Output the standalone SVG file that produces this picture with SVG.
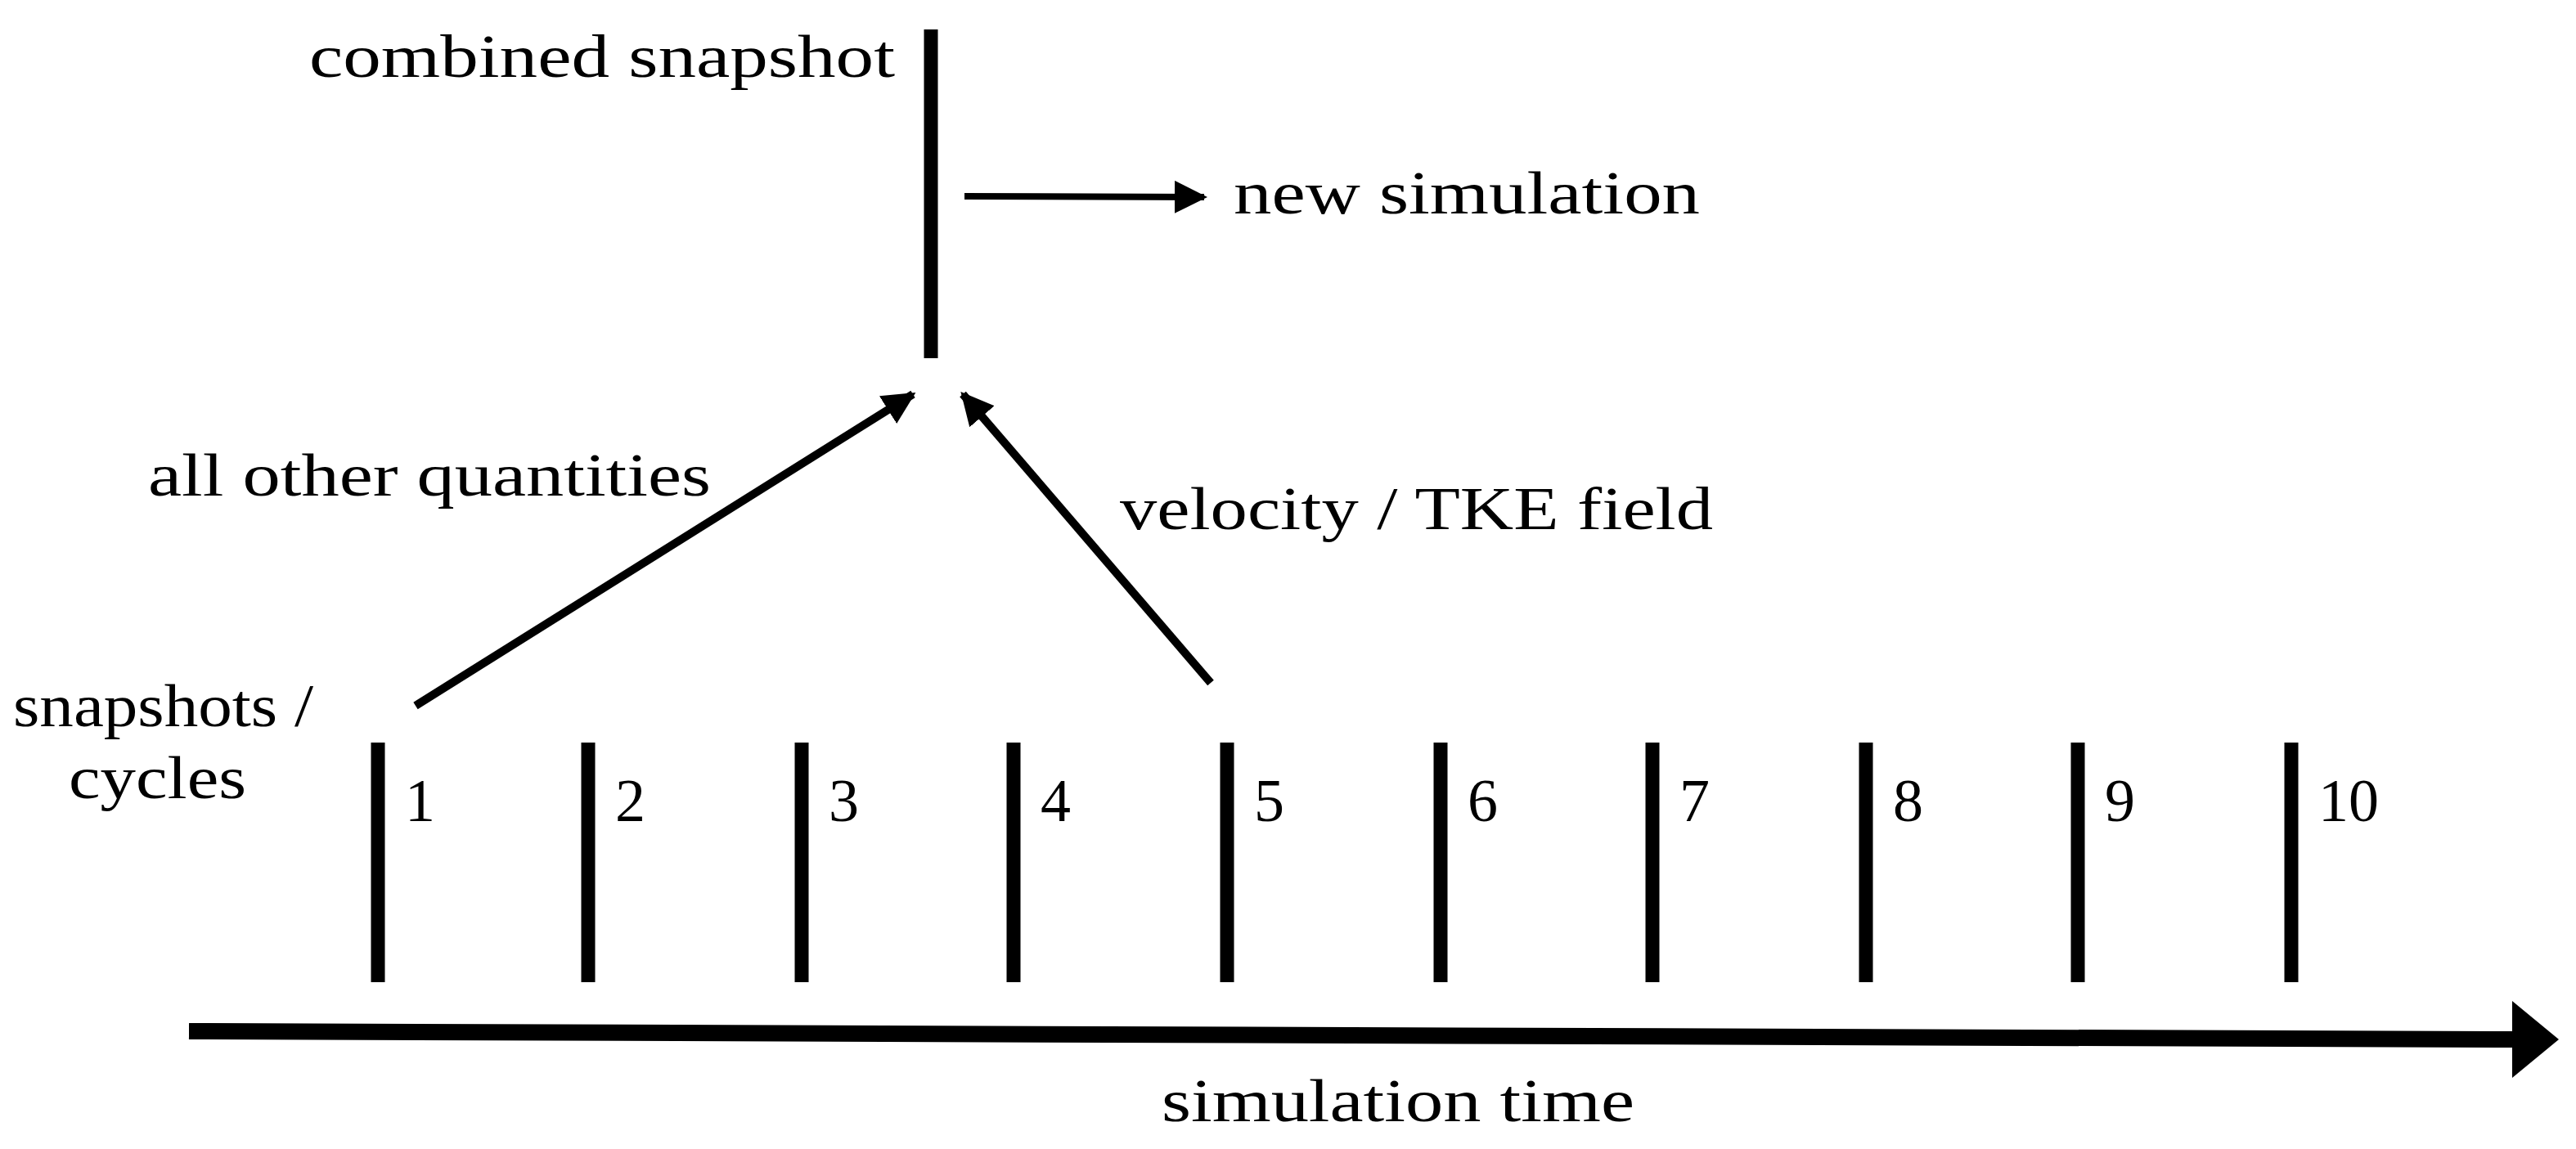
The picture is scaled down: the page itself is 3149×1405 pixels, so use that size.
<svg xmlns="http://www.w3.org/2000/svg" width="3149" height="1405" viewBox="0 0 3149 1405">
<style>
text{font-family:"Liberation Serif","DejaVu Serif",serif;font-size:74px;fill:#000}
.tick{stroke:#000;stroke-width:17}
.arr{stroke:#000;fill:none}
</style>
<defs>
<marker id="ah" viewBox="0 0 10 10" refX="9" refY="5" markerWidth="4" markerHeight="4" orient="auto" markerUnits="strokeWidth"><path d="M0,0 L10,5 L0,10 z" fill="#000"/></marker>
<marker id="ah2" viewBox="0 0 10 10" refX="9" refY="5" markerWidth="5" markerHeight="5" orient="auto" markerUnits="strokeWidth"><path d="M0,0 L10,5 L0,10 z" fill="#000"/></marker>
</defs>
<rect width="3149" height="1405" fill="#fff"/>
<g id="combined">
<line class="tick" x1="1138" y1="36" x2="1138" y2="438"/>
<text x="378" y="94" textLength="716" lengthAdjust="spacingAndGlyphs">combined snapshot</text>
</g>
<g id="newsim"><text x="1508" y="261" textLength="570" lengthAdjust="spacingAndGlyphs">new simulation</text></g>
<g id="labels">
<text x="181" y="606" textLength="688" lengthAdjust="spacingAndGlyphs">all other quantities</text>
<text x="1369" y="647" textLength="725" lengthAdjust="spacingAndGlyphs">velocity / TKE field</text>
<text x="16" y="888" textLength="367" lengthAdjust="spacingAndGlyphs">snapshots /</text>
<text x="84" y="976" textLength="217" lengthAdjust="spacingAndGlyphs">cycles</text>
<text x="1420" y="1371" textLength="578" lengthAdjust="spacingAndGlyphs">simulation time</text>
</g>
<g id="ticks">
<line class="tick" x1="462" y1="908" x2="462" y2="1201"/><text x="495" y="1004">1</text>
<line class="tick" x1="719" y1="908" x2="719" y2="1201"/><text x="752" y="1004">2</text>
<line class="tick" x1="980" y1="908" x2="980" y2="1201"/><text x="1013" y="1004">3</text>
<line class="tick" x1="1239" y1="908" x2="1239" y2="1201"/><text x="1272" y="1004">4</text>
<line class="tick" x1="1500" y1="908" x2="1500" y2="1201"/><text x="1533" y="1004">5</text>
<line class="tick" x1="1761" y1="908" x2="1761" y2="1201"/><text x="1794" y="1004">6</text>
<line class="tick" x1="2020" y1="908" x2="2020" y2="1201"/><text x="2053" y="1004">7</text>
<line class="tick" x1="2281" y1="908" x2="2281" y2="1201"/><text x="2314" y="1004">8</text>
<line class="tick" x1="2540" y1="908" x2="2540" y2="1201"/><text x="2573" y="1004">9</text>
<line class="tick" x1="2801" y1="908" x2="2801" y2="1201"/><text x="2834" y="1004">10</text>
</g>
<g id="connectors">
<line class="arr" x1="1179" y1="240" x2="1472" y2="241" stroke-width="8" marker-end="url(#ah2)"/>
<line class="arr" x1="508" y1="863" x2="1116" y2="482" stroke-width="10" marker-end="url(#ah)"/>
<line class="arr" x1="1480" y1="835" x2="1177" y2="482" stroke-width="10" marker-end="url(#ah)"/>
<line class="arr" x1="231" y1="1261" x2="3075" y2="1271" stroke-width="20"/>
<path d="M3071,1224 L3128,1271 L3071,1318 z" fill="#000"/>
</g>
</svg>
